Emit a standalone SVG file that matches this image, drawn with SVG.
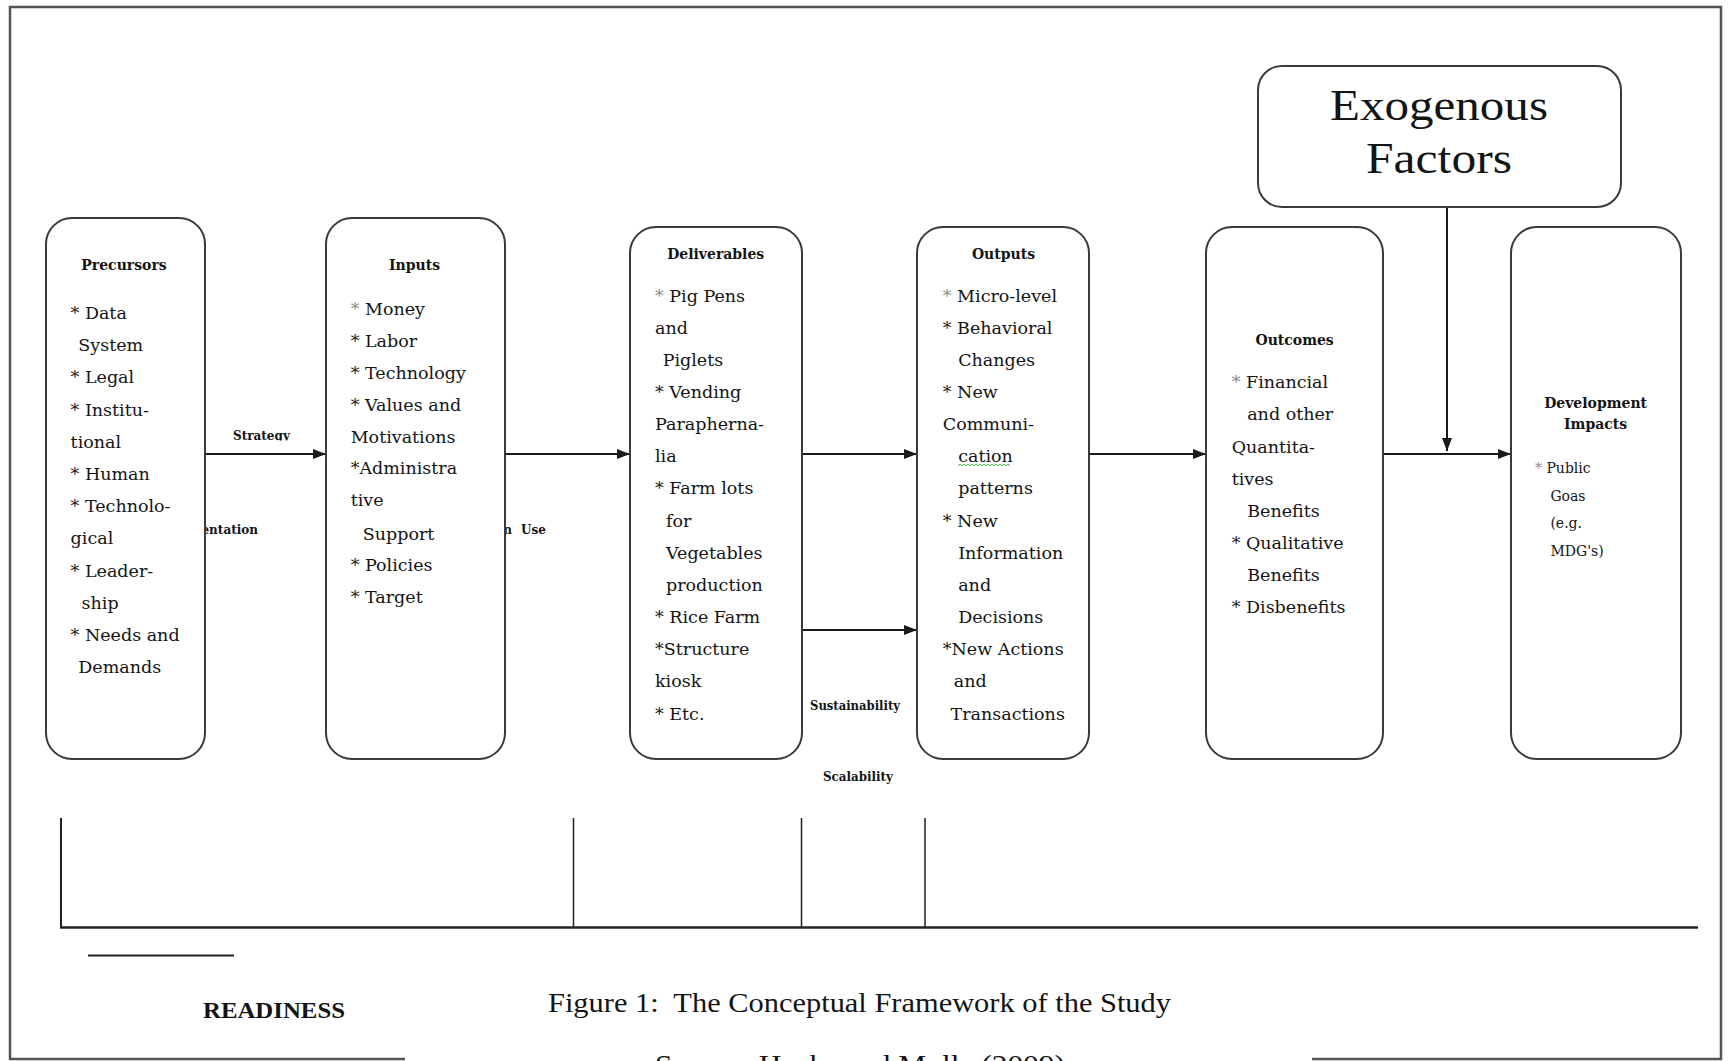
<svg xmlns="http://www.w3.org/2000/svg" width="1729" height="1061" viewBox="0 0 1729 1061">
<style>
.box{fill:#fff;stroke:#3a3a3a;stroke-width:2}
.t{font-family:"DejaVu Serif",serif;font-size:17.5px;fill:#141414}
.h{font-family:"DejaVu Serif",serif;font-size:14px;font-weight:bold;fill:#141414;text-anchor:middle}
.lbl{font-family:"DejaVu Serif",serif;font-size:12px;font-weight:bold;fill:#141414}
.sm{font-size:14px}
.conn{stroke:#1a1a1a;stroke-width:2;fill:none}
.rule{stroke:#222;fill:none}
.cap{font-family:"Liberation Serif",serif;fill:#141414}
.faint{fill:#8a8a8a}
</style>
<defs>
<marker id="ah" markerUnits="userSpaceOnUse" markerWidth="14" markerHeight="11" refX="13" refY="5" orient="auto">
<path d="M0,0 L13,5 L0,10 z" fill="#1a1a1a"/>
</marker>
<clipPath id="clipStrat"><rect x="220" y="420" width="100" height="20.5"/></clipPath>
</defs>
<rect width="1729" height="1061" fill="#fff"/>
<path d="M405,1059 H10 V7 H1721 V1059 H1312" fill="none" stroke="#555" stroke-width="2.5"/>

<g id="connectors">
<line class="conn" x1="205" y1="454" x2="326" y2="454" marker-end="url(#ah)"/>
<line class="conn" x1="505" y1="454" x2="630" y2="454" marker-end="url(#ah)"/>
<line class="conn" x1="802" y1="454" x2="917" y2="454" marker-end="url(#ah)"/>
<line class="conn" x1="802" y1="630" x2="917" y2="630" marker-end="url(#ah)"/>
<line class="conn" x1="1089" y1="454" x2="1206" y2="454" marker-end="url(#ah)"/>
<line class="conn" x1="1383" y1="454" x2="1511" y2="454" marker-end="url(#ah)"/>
<line class="conn" x1="1447" y1="207" x2="1447" y2="451" marker-end="url(#ah)"/>
<text class="lbl" x="233" y="439.5" clip-path="url(#clipStrat)">Strategy</text>
<text class="lbl" x="258" y="533.5" text-anchor="end">Implementation</text>
<text class="lbl" x="512" y="533.5" text-anchor="end">Adoption</text>
<text class="lbl" x="521" y="533.5">Use</text>
<text class="lbl" x="810" y="710" textLength="90" lengthAdjust="spacingAndGlyphs">Sustainability</text>
<text class="lbl" x="823" y="780.5" textLength="70" lengthAdjust="spacingAndGlyphs">Scalability</text>
</g>

<g id="precursors">
<rect class="box" x="46" y="218" width="159" height="541" rx="26"/>
<text class="h" x="124" y="270">Precursors</text>
<text class="t" x="70.6" y="319">* Data</text>
<text class="t" x="78.3" y="351.2">System</text>
<text class="t" x="70.6" y="383.4">* Legal</text>
<text class="t" x="70.6" y="415.6">* Institu-</text>
<text class="t" x="70.6" y="447.8">tional</text>
<text class="t" x="70.6" y="480">* Human</text>
<text class="t" x="70.6" y="512.2">* Technolo-</text>
<text class="t" x="70.6" y="544.4">gical</text>
<text class="t" x="70.6" y="576.6">* Leader-</text>
<text class="t" x="81.6" y="608.8">ship</text>
<text class="t" x="70.6" y="641">* Needs and</text>
<text class="t" x="78.3" y="673.2">Demands</text>
</g>

<g id="inputs">
<rect class="box" x="326" y="218" width="179" height="541" rx="26"/>
<text class="h" x="414.6" y="270">Inputs</text>
<text class="t" x="350.7" y="315"><tspan class="faint">*</tspan> Money</text>
<text class="t" x="350.7" y="346.5">* Labor</text>
<text class="t" x="350.7" y="378.5">* Technology</text>
<text class="t" x="350.7" y="411">* Values and</text>
<text class="t" x="350.7" y="443">Motivations</text>
<text class="t" x="350.7" y="474">*Administra</text>
<text class="t" x="350.7" y="506">tive</text>
<text class="t" x="362.8" y="540">Support</text>
<text class="t" x="350.7" y="571">* Policies</text>
<text class="t" x="350.7" y="603">* Target</text>
</g>

<g id="deliverables">
<rect class="box" x="630" y="227" width="172" height="532" rx="26"/>
<text class="h" x="715.7" y="259">Deliverables</text>
<text class="t" x="655" y="301.5"><tspan class="faint">*</tspan> Pig Pens</text>
<text class="t" x="655" y="333.6">and</text>
<text class="t" x="662.7" y="365.8">Piglets</text>
<text class="t" x="655" y="398">* Vending</text>
<text class="t" x="655" y="430.1">Paraphernа-</text>
<text class="t" x="655" y="462.3">lia</text>
<text class="t" x="655" y="494.4">* Farm lots</text>
<text class="t" x="666" y="526.6">for</text>
<text class="t" x="666" y="558.7">Vegetables</text>
<text class="t" x="666" y="590.9">production</text>
<text class="t" x="655" y="623">* Rice Farm</text>
<text class="t" x="655" y="655.2">*Structure</text>
<text class="t" x="655" y="687.3">kiosk</text>
<text class="t" x="655" y="719.5">* Etc.</text>
</g>

<g id="outputs">
<rect class="box" x="917" y="227" width="172" height="532" rx="26"/>
<text class="h" x="1003.5" y="259">Outputs</text>
<text class="t" x="942.8" y="301.5"><tspan class="faint">*</tspan> Micro-level</text>
<text class="t" x="942.8" y="333.6">* Behavioral</text>
<text class="t" x="958.2" y="365.8">Changes</text>
<text class="t" x="942.8" y="398">* New</text>
<text class="t" x="942.8" y="430.1">Communi-</text>
<text class="t" x="958.2" y="462.3">cation</text>
<path d="M958,466 l2,-2 l2,2 l2,-2 l2,2 l2,-2 l2,2 l2,-2 l2,2 l2,-2 l2,2 l2,-2 l2,2 l2,-2 l2,2 l2,-2 l2,2 l2,-2 l2,2 l2,-2 l2,2 l2,-2 l2,2 l2,-2 l2,2 l2,-2 l2,2" fill="none" stroke="#4caf50" stroke-width="1"/>
<text class="t" x="958.2" y="494.4">patterns</text>
<text class="t" x="942.8" y="526.6">* New</text>
<text class="t" x="958.2" y="558.7">Information</text>
<text class="t" x="958.2" y="590.9">and</text>
<text class="t" x="958.2" y="623">Decisions</text>
<text class="t" x="942.8" y="655.2">*New Actions</text>
<text class="t" x="953.8" y="687.3">and</text>
<text class="t" x="950.5" y="719.5">Transactions</text>
</g>

<g id="outcomes">
<rect class="box" x="1206" y="227" width="177" height="532" rx="26"/>
<text class="h" x="1294.6" y="345">Outcomes</text>
<text class="t" x="1231.7" y="388"><tspan class="faint">*</tspan> Financial</text>
<text class="t" x="1247.2" y="420">and other</text>
<text class="t" x="1231.7" y="452.5">Quantita-</text>
<text class="t" x="1231.7" y="484.6">tives</text>
<text class="t" x="1247.2" y="516.5">Benefits</text>
<text class="t" x="1231.7" y="548.5">* Qualitative</text>
<text class="t" x="1247.2" y="580.5">Benefits</text>
<text class="t" x="1231.7" y="612.5">* Disbenefits</text>
</g>

<g id="impacts">
<rect class="box" x="1511" y="227" width="170" height="532" rx="26"/>
<text class="h" x="1595.6" y="408">Development</text>
<text class="h" x="1595.6" y="429">Impacts</text>
<text class="t sm" x="1535" y="473"><tspan class="faint">*</tspan> Public</text>
<text class="t sm" x="1550.4" y="500.5">Goas</text>
<text class="t sm" x="1550.4" y="528">(e.g.</text>
<text class="t sm" x="1550.4" y="555.5">MDG's)</text>
</g>

<g id="exogenous">
<rect class="box" x="1258" y="66" width="363" height="141" rx="24"/>
<text class="cap" x="1439" y="120" font-size="45" text-anchor="middle" textLength="218" lengthAdjust="spacingAndGlyphs">Exogenous</text>
<text class="cap" x="1439" y="173" font-size="45" text-anchor="middle" textLength="146" lengthAdjust="spacingAndGlyphs">Factors</text>
</g>

<g id="timeline">
<line class="rule" x1="61" y1="818" x2="61" y2="928" stroke-width="2"/>
<line class="rule" x1="573.5" y1="818" x2="573.5" y2="928" stroke-width="1.5"/>
<line class="rule" x1="801.5" y1="818" x2="801.5" y2="928" stroke-width="1.5"/>
<line class="rule" x1="925" y1="818" x2="925" y2="928" stroke-width="1.5"/>
<line class="rule" x1="60" y1="927.5" x2="1698" y2="927.5" stroke-width="2.5" stroke="#333"/>
<line class="rule" x1="88" y1="955.5" x2="234" y2="955.5" stroke-width="2"/>
</g>

<g id="captions">
<text class="cap" x="203" y="1018" font-size="24" font-weight="bold" textLength="142" lengthAdjust="spacingAndGlyphs">READINESS</text>
<text class="cap" x="548" y="1012" font-size="28" textLength="623" lengthAdjust="spacingAndGlyphs" xml:space="preserve">Figure 1:  The Conceptual Framework of the Study</text>
<text class="cap" x="655" y="1074" font-size="28" textLength="410" lengthAdjust="spacingAndGlyphs">Source:  Heeks and Molla (2009)</text>
</g>
</svg>
